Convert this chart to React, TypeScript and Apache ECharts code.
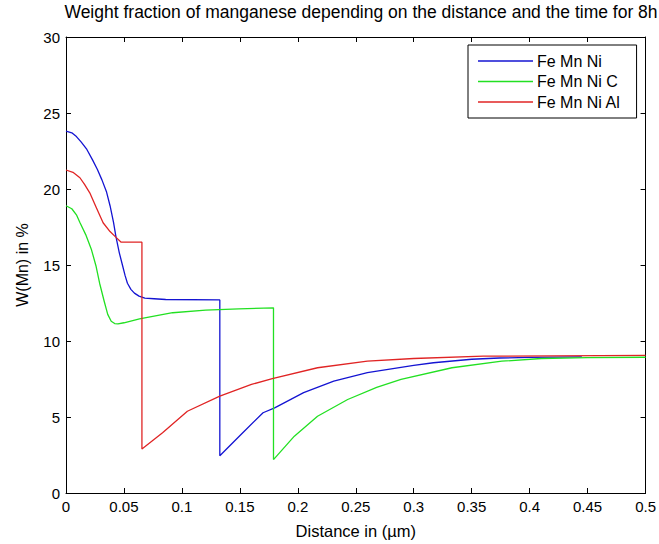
import React, { useEffect, useRef } from "react";
import * as echarts from "echarts";

const title = "Weight fraction of manganese depending on the distance and the time for 8h";
const xName = "Distance in (µm)";
const yName = "W(Mn) in %";
const seriesNames = ["Fe Mn Ni", "Fe Mn Ni C", "Fe Mn Ni Al"];
const colors = ["#1414d2", "#22e022", "#e02424"];

const blueX = [0, 0.005, 0.009, 0.013, 0.018, 0.023, 0.027, 0.031, 0.035, 0.038, 0.041, 0.043, 0.046, 0.049, 0.051, 0.053, 0.056, 0.059, 0.063, 0.068, 0.076, 0.086, 0.1327, 0.1327, 0.151, 0.17, 0.18, 0.205, 0.231, 0.26, 0.3, 0.317, 0.35, 0.374, 0.4, 0.445];
const blueY = [23.8, 23.7, 23.45, 23.1, 22.6, 21.9, 21.3, 20.6, 19.8, 18.9, 17.8, 16.9, 15.8, 14.9, 14.3, 13.8, 13.4, 13.15, 12.95, 12.82, 12.78, 12.73, 12.7, 2.45, 3.85, 5.28, 5.6, 6.6, 7.36, 7.92, 8.4, 8.57, 8.8, 8.88, 8.92, 8.95];

const greenX = [0, 0.005, 0.009, 0.012, 0.017, 0.022, 0.026, 0.029, 0.033, 0.036, 0.039, 0.042, 0.0448, 0.05, 0.0634, 0.092, 0.1205, 0.149, 0.179, 0.179, 0.197, 0.217, 0.243, 0.268, 0.289, 0.333, 0.376, 0.41, 0.45, 0.5];
const greenY = [18.9, 18.7, 18.3, 17.8, 17.0, 16.0, 14.9, 13.8, 12.6, 11.75, 11.3, 11.15, 11.12, 11.2, 11.46, 11.86, 12.03, 12.12, 12.18, 2.2, 3.74, 5.05, 6.15, 6.95, 7.47, 8.24, 8.67, 8.85, 8.9, 8.93];

const redX = [0, 0.006, 0.012, 0.016, 0.0205, 0.026, 0.032, 0.038, 0.0434, 0.0476, 0.0655, 0.0655, 0.0833, 0.1047, 0.1327, 0.16, 0.178, 0.217, 0.26, 0.3, 0.36, 0.5];
const redY = [21.25, 21.1, 20.74, 20.3, 19.75, 18.8, 17.78, 17.2, 16.8, 16.5, 16.5, 2.9, 3.96, 5.38, 6.37, 7.14, 7.53, 8.24, 8.67, 8.85, 9.0, 9.05];

const xs = [blueX, greenX, redX];
const ys = [blueY, greenY, redY];

const FONT = "Liberation Sans, Arial, sans-serif";

export default function App() {
  const ref = useRef<HTMLDivElement>(null);
  useEffect(() => {
    if (!ref.current) return;
    const chart = echarts.init(ref.current, null, { renderer: "svg" });
    const axisCommon = {
      axisLine: { show: true, onZero: false, lineStyle: { color: "#000", width: 1 } },
      axisTick: { show: true, inside: true, length: 5, lineStyle: { color: "#000" } },
      splitLine: { show: false },
    };
    chart.setOption({
      animation: false,
      backgroundColor: "#fff",
      textStyle: { fontFamily: FONT },
      title: {
        text: title,
        left: 356,
        textAlign: "center",
        top: -2,
        padding: 5,
        textStyle: { fontSize: 17.5, fontWeight: "normal", color: "#000", fontFamily: FONT },
      },
      grid: { left: 66, right: 11, top: 37, bottom: 51 },
      legend: {
        data: seriesNames,
        orient: "vertical",
        left: 468,
        top: 45,
        padding: [8, 16, 8, 10],
        itemGap: 4.5,
        itemWidth: 55,
        itemHeight: 1.5,
        icon: "rect",
        borderColor: "#000",
        borderWidth: 1,
        backgroundColor: "#fff",
        textStyle: { fontSize: 16, color: "#000", fontFamily: FONT, padding: [0, 0, 0, -1] },
      },
      xAxis: [
        {
          type: "value",
          min: 0,
          max: 0.5,
          interval: 0.05,
          position: "bottom",
          name: xName,
          nameLocation: "middle",
          nameGap: 29,
          nameTextStyle: { fontSize: 16.5, color: "#000", fontFamily: FONT },
          axisLabel: {
            color: "#000",
            fontSize: 15,
            margin: 6,
            fontFamily: FONT,
            formatter: (v: number) => String(Math.round(v * 100) / 100),
          },
          ...axisCommon,
        },
        {
          type: "value",
          min: 0,
          max: 0.5,
          interval: 0.05,
          position: "top",
          axisLabel: { show: false },
          ...axisCommon,
        },
      ],
      yAxis: [
        {
          type: "value",
          min: 0,
          max: 30,
          interval: 5,
          position: "left",
          name: yName,
          nameLocation: "middle",
          nameGap: 36,
          nameTextStyle: { fontSize: 16, color: "#000", fontFamily: FONT },
          axisLabel: { color: "#000", fontSize: 15, margin: 6, fontFamily: FONT },
          ...axisCommon,
        },
        {
          type: "value",
          min: 0,
          max: 30,
          interval: 5,
          position: "right",
          axisLabel: { show: false },
          ...axisCommon,
        },
      ],
      series: seriesNames.map((name, i) => ({
        name,
        type: "line",
        showSymbol: false,
        symbol: "none",
        color: colors[i],
        lineStyle: { width: 1.3, color: colors[i] },
        data: xs[i].map((x, j) => [x, ys[i][j]]),
      })),
    });
    return () => chart.dispose();
  }, []);
  return (
    <div
      ref={ref}
      style={{ position: "fixed", left: 0, top: 0, width: 659, height: 544, background: "#fff" }}
    />
  );
}
